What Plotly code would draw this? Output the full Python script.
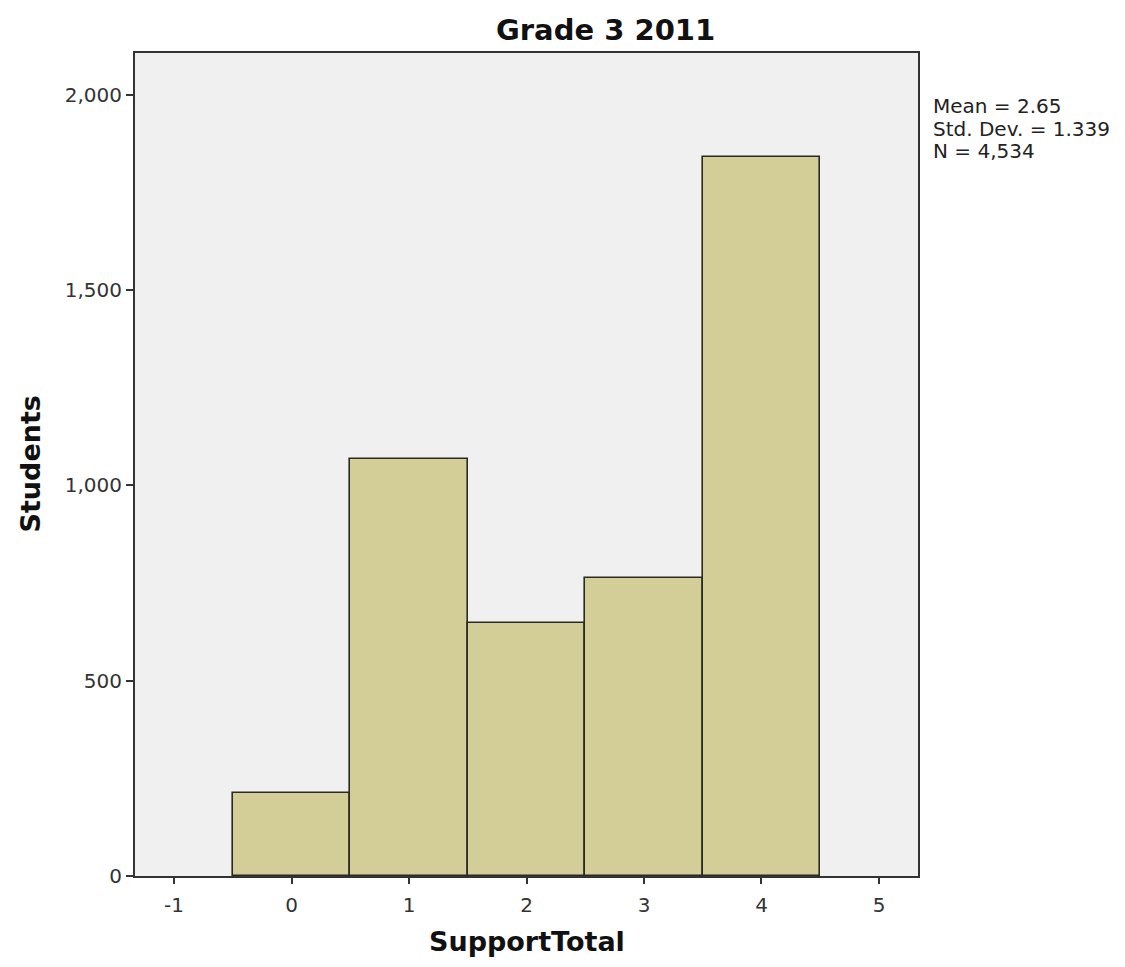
import plotly.graph_objects as go

support_total = [0, 1, 2, 3, 4]
students = [212, 1068, 648, 764, 1842]
x_ticks = [-1, 0, 1, 2, 3, 4, 5]
x_tick_labels = ["-1", "0", "1", "2", "3", "4", "5"]
y_ticks = [0, 500, 1000, 1500, 2000]
y_tick_labels = ["0", "500", "1,000", "1,500", "2,000"]
stats_lines = ["Mean = 2.65", "Std. Dev. = 1.339", "N = 4,534"]
stats_y = [0.9355, 0.9078, 0.8808]

FONT = "DejaVu Sans"

fig = go.Figure()
fig.add_trace(go.Bar(
    x=support_total, y=students, width=1,
    marker=dict(color="#d3ce97", line=dict(color="#2a2a22", width=1.6)),
    showlegend=False,
))

annotations = [
    dict(text="<b>Grade 3 2011</b>", xref="paper", yref="paper", x=0.6015, y=1.0,
         yshift=23, xanchor="center", yanchor="middle", showarrow=False,
         font=dict(size=29, family=FONT, color="#111")),
    dict(text="<b>SupportTotal</b>", xref="paper", yref="paper", x=0.5, y=0,
         yshift=-65, xanchor="center", yanchor="middle", showarrow=False,
         font=dict(size=27, family=FONT, color="#111")),
    dict(text="<b>Students</b>", xref="paper", yref="paper", x=0, y=0.5,
         xshift=-105, xanchor="center", yanchor="middle", showarrow=False,
         textangle=-90, font=dict(size=27, family=FONT, color="#111")),
]
for line, yy in zip(stats_lines, stats_y):
    annotations.append(dict(text=line, xref="paper", yref="paper", x=1.017, y=yy,
                            xanchor="left", yanchor="middle", align="left", showarrow=False,
                            font=dict(size=20, family=FONT, color="#222")))

fig.update_layout(
    width=1109, height=951,
    margin=dict(l=127, r=199, t=45, b=83),
    paper_bgcolor="white", plot_bgcolor="#f0f0f0",
    font=dict(family=FONT, color="#222"),
    bargap=0,
    xaxis=dict(range=[-1.332, 5.332], tickvals=x_ticks, ticktext=x_tick_labels,
               ticks="outside", ticklen=6,
               tickcolor="#333", tickwidth=1.5, showgrid=False, zeroline=False,
               showline=True, linecolor="#333", linewidth=2, mirror=True,
               tickfont=dict(size=20, color="#333"), ticklabelstandoff=4),
    yaxis=dict(range=[0, 2107], tickvals=y_ticks, ticktext=y_tick_labels, ticks="outside",
               ticklen=7, tickcolor="#333", tickwidth=1.5, showgrid=False, zeroline=False,
               showline=True, linecolor="#333", linewidth=2, mirror=True,
               tickfont=dict(size=20, color="#333")),
    annotations=annotations,
)

fig.write_html("out.html")
